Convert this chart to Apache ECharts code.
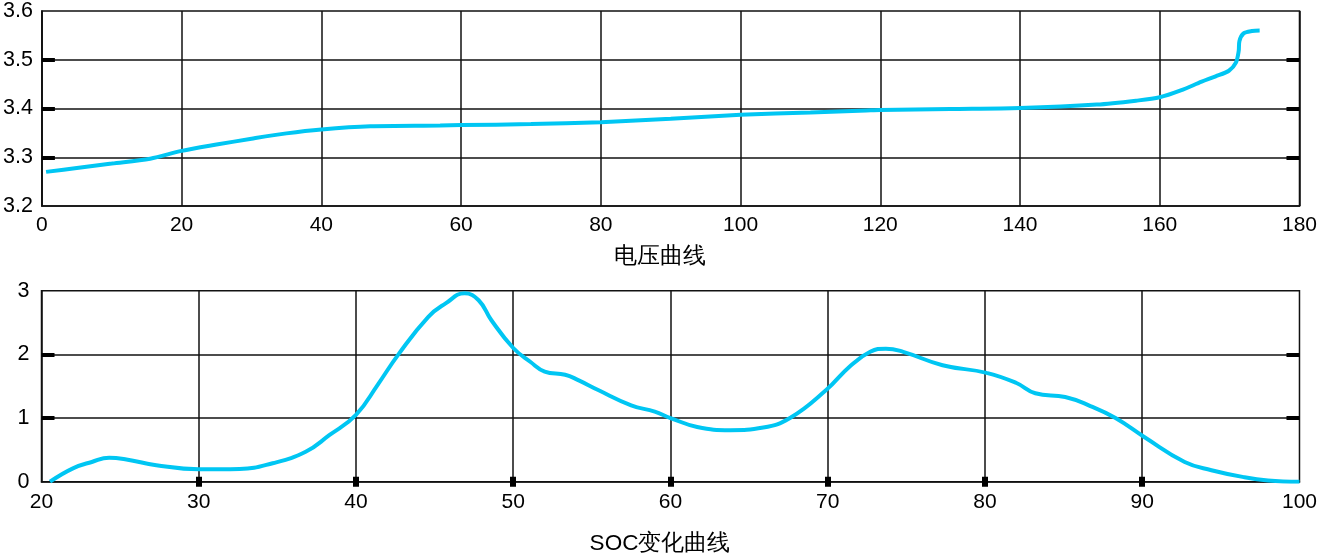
<!DOCTYPE html>
<html>
<head>
<meta charset="utf-8">
<script src="https://cdn.jsdelivr.net/npm/echarts@6/dist/echarts.min.js"></script>
<style>
html,body{margin:0;padding:0;background:#fff;}
#chart{width:1320px;height:553px;}
</style>
</head>
<body>
<div id="chart"></div>
<script>
// ---- data ----
const voltageTitle = '电压曲线';
const socTitle = 'SOC变化曲线';
const voltageX = [0.6, 5, 10, 15.5, 20, 25, 30, 35, 40, 47, 57, 60, 70, 80, 90, 100, 110, 118, 120, 130, 140, 151, 156.6, 160, 163, 166, 168, 169.9, 170.9, 171.3, 171.4, 172.0, 173.2, 174.3];
const voltageY = [3.27, 3.278, 3.287, 3.297, 3.313, 3.326, 3.338, 3.349, 3.357, 3.3635, 3.365, 3.366, 3.368, 3.372, 3.379, 3.387, 3.392, 3.396, 3.397, 3.399, 3.401, 3.408, 3.416, 3.423, 3.437, 3.455, 3.466, 3.4775, 3.494, 3.518, 3.538, 3.554, 3.559, 3.56];
const socX = [20.54, 22, 23.2, 24.3, 25.4, 27.3, 30, 32.6, 34.7, 36.8, 38.3, 40, 41.4, 42.7, 44.6, 45.7, 46.9, 47.8, 48.6, 50, 51.1, 52, 53.3, 54.1, 55.4, 57.5, 59, 60, 61.7, 63.8, 65.9, 67.6, 69.9, 71.4, 72.7, 73.7, 74.8, 77.3, 80.1, 82, 83.2, 85.1, 86.6, 88.3, 90.2, 92.7, 94.4, 96.5, 98, 100];
const socY = [0, 0.21, 0.31, 0.377, 0.35, 0.26, 0.195, 0.2, 0.29, 0.47, 0.73, 1.05, 1.53, 2.0, 2.59, 2.8, 2.96, 2.85, 2.54, 2.1, 1.88, 1.73, 1.68, 1.6, 1.44, 1.2, 1.1, 1.0, 0.86, 0.81, 0.85, 1.0, 1.44, 1.81, 2.04, 2.09, 2.04, 1.83, 1.71, 1.55, 1.39, 1.33, 1.2, 1.0, 0.69, 0.31, 0.18, 0.07, 0.02, 0];
const voltageYTicks = [3.3, 3.4, 3.5];
const socYTicks = [1, 2];
const socXTicks = [30, 40, 50, 60, 70, 80, 90];

const FONT = "'Liberation Sans', Arial, sans-serif";
const LINE = '#00c6f3';
const chart = echarts.init(document.getElementById('chart'));

function pairs(xs, ys){ return xs.map((x,i)=>[x, ys[i]]); }

const xLabelStyle = {color:'#000', fontSize:21, fontFamily:FONT};
const yLabelStyle = {color:'#000', fontSize:21.5, fontFamily:FONT};
const split = {show:true, lineStyle:{color:'#111', width:1.5}};

chart.setOption({
  animation:false,
  backgroundColor:'#fff',
  title:[
    {text:voltageTitle, left:'center', top:240, textStyle:{color:'#000', fontSize:22.5, fontWeight:'normal', fontFamily:FONT}},
    {text:socTitle, left:'center', top:527, textStyle:{color:'#000', fontSize:22.5, fontWeight:'normal', fontFamily:FONT}}
  ],
  grid:[
    {left:41.5, top:9.5, right:16, height:196.5, show:true, borderColor:'#111', borderWidth:1.5, backgroundColor:'transparent'},
    {left:41.5, top:290.7, right:15.5, height:191, show:true, borderColor:'#111', borderWidth:1.5, backgroundColor:'transparent'}
  ],
  xAxis:[
    {type:'value', gridIndex:0, min:0, max:180, interval:20,
     axisLine:{show:true, lineStyle:{color:'#111', width:1.5}},
     axisTick:{show:false}, splitLine:split,
     axisLabel:Object.assign({margin:9}, xLabelStyle)},
    {type:'value', gridIndex:1, min:20, max:100, interval:10, position:'bottom',
     axisLine:{show:true, lineStyle:{color:'#111', width:1.5}},
     axisTick:{show:true, inside:true, length:5, lineStyle:{color:'#000', width:6}, customValues:socXTicks},
     splitLine:split,
     axisLabel:Object.assign({margin:10}, xLabelStyle)},
    {type:'value', gridIndex:1, min:20, max:100, interval:10, position:'top',
     axisLine:{show:false},
     axisTick:{show:true, inside:true, length:5, lineStyle:{color:'#000', width:6}, customValues:socXTicks},
     splitLine:{show:false}, axisLabel:{show:false}}
  ],
  yAxis:[
    {type:'value', gridIndex:0, min:3.2, max:3.6, interval:0.1,
     axisLine:{show:true, lineStyle:{color:'#111', width:1.5}},
     axisTick:{show:true, inside:true, length:13, lineStyle:{color:'#000', width:4}, customValues:voltageYTicks},
     splitLine:split,
     axisLabel:Object.assign({margin:9, formatter:v=>v.toFixed(1)}, yLabelStyle)},
    {type:'value', gridIndex:0, min:3.2, max:3.6, interval:0.1, position:'right',
     axisLine:{show:false},
     axisTick:{show:true, inside:true, length:13, lineStyle:{color:'#000', width:4}, customValues:voltageYTicks},
     splitLine:{show:false}, axisLabel:{show:false}},
    {type:'value', gridIndex:1, min:0, max:3, interval:1,
     axisLine:{show:true, lineStyle:{color:'#111', width:1.5}},
     axisTick:{show:true, inside:true, length:13, lineStyle:{color:'#000', width:4}, customValues:socYTicks},
     splitLine:split,
     axisLabel:Object.assign({margin:12}, yLabelStyle)},
    {type:'value', gridIndex:1, min:0, max:3, interval:1, position:'right',
     axisLine:{show:false},
     axisTick:{show:true, inside:true, length:13, lineStyle:{color:'#000', width:4}, customValues:socYTicks},
     splitLine:{show:false}, axisLabel:{show:false}}
  ],
  series:[
    {type:'line', xAxisIndex:0, yAxisIndex:0, data:pairs(voltageX, voltageY), smooth:0.3,
     showSymbol:false, lineStyle:{color:LINE, width:4}, z:5},
    {type:'line', xAxisIndex:1, yAxisIndex:2, data:pairs(socX, socY), smooth:0.45,
     showSymbol:false, lineStyle:{color:LINE, width:4}, z:5}
  ]
});
</script>
</body>
</html>
